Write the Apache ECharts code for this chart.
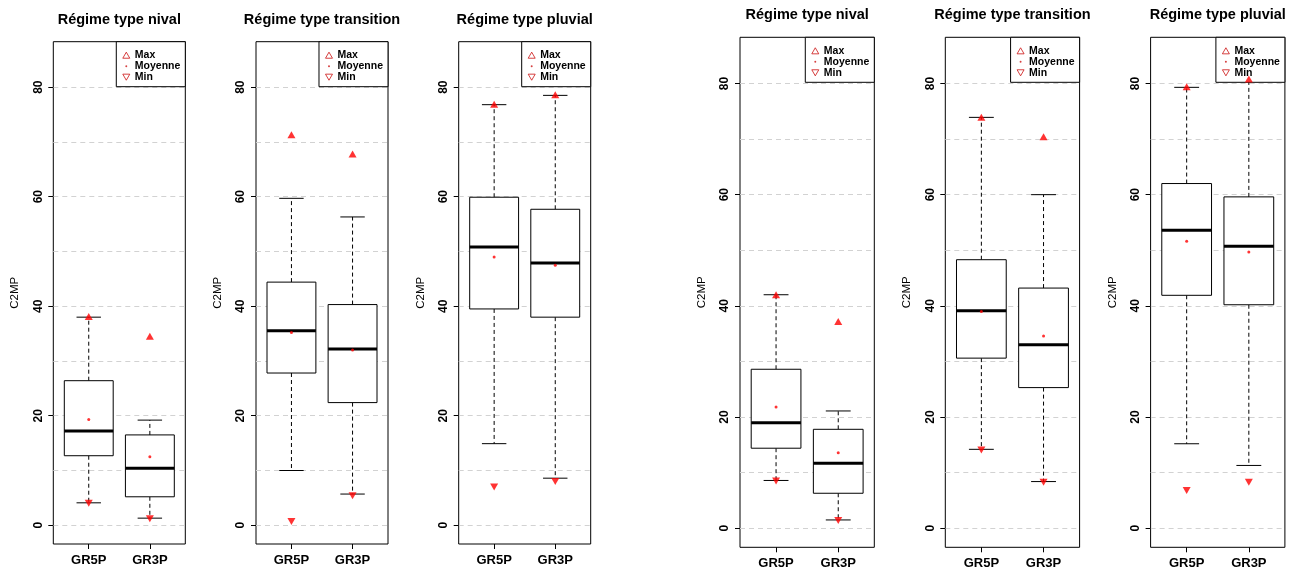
<!DOCTYPE html>
<html><head><meta charset="utf-8">
<script src="https://cdn.jsdelivr.net/npm/echarts@6/dist/echarts.min.js"></script>
<style>html,body{margin:0;padding:0;background:#fff}#c{width:1293px;height:571px}</style>
</head><body><div id="c"></div>
<script>
// ---------- data ----------
const categories = ['GR5P', 'GR3P'];
const panelTitles = ['Régime type nival', 'Régime type transition', 'Régime type pluvial',
                     'Régime type nival', 'Régime type transition', 'Régime type pluvial'];
const yTickValues = [0, 20, 40, 60, 80];
const gridLineValues = [0, 10, 20, 30, 40, 50, 60, 70, 80];
const yAxisTitle = 'C2MP';
const legendNames = ['Max', 'Moyenne', 'Min'];
// [lower whisker, Q1, median, Q3, upper whisker] for GR5P, GR3P
const box1 = [[4.1, 12.7, 17.2, 26.4, 38.0], [1.3, 5.2, 10.4, 16.5, 19.2]];
const box2 = [[10.0, 27.8, 35.5, 44.4, 59.7], [5.7, 22.4, 32.2, 40.3, 56.3]];
const box3 = [[14.9, 39.5, 50.8, 59.9, 76.8], [8.6, 38.0, 47.9, 57.7, 78.5]];
const box4 = [[8.6, 14.4, 19.0, 28.6, 42.0], [1.5, 6.3, 11.7, 17.8, 21.1]];
const box5 = [[14.2, 30.6, 39.1, 48.3, 73.9], [8.4, 25.3, 33.0, 43.2, 60.0]];
const box6 = [[15.2, 41.9, 53.6, 62.0, 79.3], [11.3, 40.2, 50.7, 59.6, 80.6]];
const max1 = [38.1, 34.5], mean1 = [19.3, 12.5], min1 = [4.0, 1.2];
const max2 = [71.3, 67.8], mean2 = [35.2, 32.0], min2 = [0.7, 5.4];
const max3 = [76.9, 78.6], mean3 = [49.0, 47.5], min3 = [7.0, 8.0];
const max4 = [42.0, 37.2], mean4 = [21.8, 13.6], min4 = [8.5, 1.4];
const max5 = [73.9, 70.4], mean5 = [39.0, 34.6], min5 = [14.1, 8.3];
const max6 = [79.4, 80.8], mean6 = [51.6, 49.7], min6 = [6.8, 8.3];

const boxes = [box1, box2, box3, box4, box5, box6];
const maxs = [max1, max2, max3, max4, max5, max6];
const means = [mean1, mean2, mean3, mean4, mean5, mean6];
const mins = [min1, min2, min3, min4, min5, min6];

// ---------- layout ----------
const W = 1293, H = 571;
const FONT = '"Liberation Sans", Arial, sans-serif';
const Y_MIN = -3.42, Y_MAX = 88.3;
const X_MIN = 0.42, X_MAX = 2.58;
const panels = [
  { l: 53.3,   r: 185.3,  t: 41.7, b: 544,   ty: 20 },
  { l: 256,    r: 388,    t: 41.7, b: 544,   ty: 20 },
  { l: 458.7,  r: 590.7,  t: 41.7, b: 544,   ty: 20 },
  { l: 740,    r: 874.3,  t: 37.3, b: 547.3, ty: 15 },
  { l: 945.3,  r: 1079.6, t: 37.3, b: 547.3, ty: 15 },
  { l: 1150.6, r: 1284.9, t: 37.3, b: 547.3, ty: 15 }
];
const RED = '#ff0000';
const LEG_RED = '#cc1111';

function renderBox(params, api) {
  const x = api.value(0);
  const low = api.coord([x, api.value(1)]);
  const q1 = api.coord([x, api.value(2)]);
  const med = api.coord([x, api.value(3)]);
  const q3 = api.coord([x, api.value(4)]);
  const high = api.coord([x, api.value(5)]);
  const w = api.size([0.8, 0])[0];
  const cx = low[0];
  const dashed = { stroke: '#000', lineWidth: 1, lineDash: [4, 3] };
  const solid = { stroke: '#000', lineWidth: 1 };
  return {
    type: 'group',
    children: [
      { type: 'line', shape: { x1: cx, y1: q3[1], x2: cx, y2: high[1] }, style: dashed },
      { type: 'line', shape: { x1: cx, y1: q1[1], x2: cx, y2: low[1] }, style: dashed },
      { type: 'line', shape: { x1: cx - w / 4, y1: high[1], x2: cx + w / 4, y2: high[1] }, style: solid },
      { type: 'line', shape: { x1: cx - w / 4, y1: low[1], x2: cx + w / 4, y2: low[1] }, style: solid },
      { type: 'rect', shape: { x: cx - w / 2, y: q3[1], width: w, height: q1[1] - q3[1] },
        style: { fill: '#fff', stroke: '#000', lineWidth: 1 } },
      { type: 'line', shape: { x1: cx - w / 2, y1: med[1], x2: cx + w / 2, y2: med[1] },
        style: { stroke: '#000', lineWidth: 3 } }
    ]
  };
}

const option = {
  backgroundColor: '#fff',
  animation: false,
  title: [], grid: [], xAxis: [], yAxis: [], series: [], legend: []
};

panels.forEach((p, i) => {
  option.title.push({
    text: panelTitles[i], left: (p.l + p.r) / 2, top: p.ty, padding: 0,
    textAlign: 'center', textVerticalAlign: 'middle',
    textStyle: { fontFamily: FONT, fontSize: 14.5, fontWeight: 'bold', color: '#000' }
  });
  option.grid.push({
    left: p.l, width: p.r - p.l, top: p.t, height: p.b - p.t,
    show: true, borderColor: '#000', borderWidth: 1, backgroundColor: 'transparent',
    containLabel: false, outerBoundsMode: 'none'
  });
  option.xAxis.push({
    type: 'value', gridIndex: i, min: X_MIN, max: X_MAX,
    axisLine: { show: false, onZero: false },
    splitLine: { show: false },
    axisTick: { show: true, length: 5, customValues: [1, 2], lineStyle: { color: '#000' } },
    axisLabel: {
      customValues: [1, 2], margin: 10,
      formatter: v => categories[Math.round(v) - 1] || '',
      fontFamily: FONT, fontSize: 13, fontWeight: 'bold', color: '#000'
    }
  });
  // primary y axis (ticks + labels + name)
  option.yAxis.push({
    type: 'value', gridIndex: i, min: Y_MIN, max: Y_MAX, position: 'left',
    name: yAxisTitle, nameLocation: 'middle', nameGap: 32, nameRotate: 90,
    nameTextStyle: { fontFamily: FONT, fontSize: 11.5, color: '#000' },
    axisLine: { show: false, onZero: false },
    splitLine: { show: false },
    axisTick: { show: true, length: 5, customValues: yTickValues, lineStyle: { color: '#000' } },
    axisLabel: {
      customValues: yTickValues, rotate: 90, margin: 9,
      fontFamily: FONT, fontSize: 12, fontWeight: 'bold', color: '#000'
    }
  });
  // secondary y axis (dashed grid lines only)
  option.yAxis.push({
    type: 'value', gridIndex: i, min: Y_MIN, max: Y_MAX, position: 'right',
    axisLine: { show: false, onZero: false },
    axisTick: { show: false, customValues: gridLineValues },
    axisLabel: { show: false, customValues: gridLineValues },
    splitLine: { show: true, lineStyle: { color: '#d2d2d2', width: 1, type: [5, 4] } }
  });
  const yIdx = i * 2;
  option.series.push({
    type: 'custom', name: 'box' + i, xAxisIndex: i, yAxisIndex: yIdx,
    renderItem: renderBox, z: 3,
    encode: { x: 0, y: [1, 2, 3, 4, 5] },
    data: boxes[i].map((b, k) => [k + 1].concat(b))
  });
  option.series.push({
    type: 'scatter', name: 'Max', xAxisIndex: i, yAxisIndex: yIdx, z: 5,
    symbol: 'triangle', symbolSize: [8, 7], itemStyle: { color: RED },
    data: maxs[i].map((v, k) => [k + 1, v])
  });
  option.series.push({
    type: 'scatter', name: 'Moyenne', xAxisIndex: i, yAxisIndex: yIdx, z: 5,
    symbol: 'circle', symbolSize: 3, itemStyle: { color: RED },
    data: means[i].map((v, k) => [k + 1, v])
  });
  option.series.push({
    type: 'scatter', name: 'Min', xAxisIndex: i, yAxisIndex: yIdx, z: 5,
    symbol: 'triangle', symbolRotate: 180, symbolSize: [8, 7], itemStyle: { color: RED },
    data: mins[i].map((v, k) => [k + 1, v])
  });
  option.legend.push({
    orient: 'vertical', right: W - p.r, top: p.t,
    selectedMode: false,
    backgroundColor: '#fff', borderColor: '#000', borderWidth: 1, borderRadius: 0,
    padding: [8, 5, 4, 6], itemGap: 0, itemWidth: 7, itemHeight: 7, itemTextGap: 8,
    textStyle: { fontFamily: FONT, fontSize: 10.5, fontWeight: 'bold', color: '#000', lineHeight: 11 },
    data: [
      { name: legendNames[0], icon: 'path://M5,0 L10,8.66 L0,8.66 Z',
        itemStyle: { color: 'transparent', borderColor: LEG_RED, borderWidth: 1 } },
      { name: legendNames[1], icon: 'path://M0,0 M10,10 M5,3.6 A1.4,1.4 0 1 1 5,6.4 A1.4,1.4 0 1 1 5,3.6 Z',
        itemStyle: { color: LEG_RED, borderWidth: 0 } },
      { name: legendNames[2], icon: 'path://M0,0 L10,0 L5,8.66 Z',
        itemStyle: { color: 'transparent', borderColor: LEG_RED, borderWidth: 1 } }
    ]
  });
});

const chart = echarts.init(document.getElementById('c'), null, { renderer: 'canvas' });
chart.setOption(option);
</script>
</body></html>
